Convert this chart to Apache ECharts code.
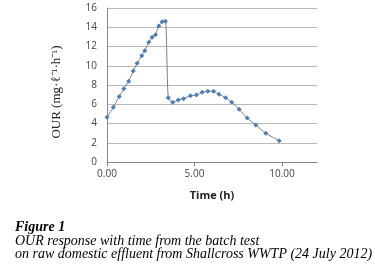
<!DOCTYPE html>
<html lang="en" style="height: 100%">
<head>
  <meta charset="utf-8">
</head>
<body style="height: 100%; margin: 0; background: #fff">
  <div id="container" style="width: 375px; height: 280px"></div>

  <script type="text/javascript" src="https://fastly.jsdelivr.net/npm/echarts@6/dist/echarts.min.js"></script>
  <script type="text/javascript">
    // time (h) and OUR readings
    var timeH = [0.0, 0.36, 0.7, 0.96, 1.24, 1.5, 1.72, 1.99, 2.16, 2.39, 2.58, 2.77, 2.96, 3.15, 3.34,
      3.5, 3.75, 4.07, 4.38, 4.77, 5.11, 5.44, 5.76, 6.09, 6.4, 6.78, 7.13, 7.55, 8.01, 8.5, 9.07, 9.84];
    var ourVals = [4.65, 5.69, 6.8, 7.6, 8.4, 9.45, 10.26, 11.05, 11.57, 12.44, 12.96, 13.23, 14.14, 14.58, 14.62,
      6.68, 6.2, 6.44, 6.58, 6.89, 6.96, 7.24, 7.35, 7.35, 7.04, 6.68, 6.2, 5.48, 4.57, 3.85, 2.98, 2.21];
    var xTicks = [0, 5, 10];

    var captionLines = [
      'Figure 1',
      'OUR response with time from the batch test',
      'on raw domestic effluent from Shallcross WWTP (24 July 2012)'
    ];

    var dom = document.getElementById('container');
    var myChart = echarts.init(dom, null, { renderer: 'canvas' });

    var points = [];
    for (var i = 0; i < timeH.length; i++) {
      points.push([timeH[i], ourVals[i]]);
    }

    var option = {
      animation: false,
      grid: { left: 107, right: 58, top: 8, bottom: 118 },
      xAxis: {
        type: 'value',
        min: 0,
        max: 12,
        interval: 5,
        name: 'Time (h)',
        nameLocation: 'middle',
        nameGap: 28,
        nameTextStyle: { fontFamily: 'Open Sans', fontWeight: 'bold', fontSize: 11, color: '#222' },
        axisLine: { lineStyle: { color: '#888' } },
        axisTick: { show: true, customValues: xTicks, length: 4, lineStyle: { color: '#888' } },
        axisLabel: {
          customValues: xTicks,
          formatter: function (v) { return v.toFixed(2); },
          fontFamily: 'Open Sans', fontSize: 10, color: '#444', margin: 7
        },
        splitLine: { show: false }
      },
      yAxis: {
        type: 'value',
        min: 0,
        max: 16,
        interval: 2,
        name: 'OUR (mg·ℓ⁻¹·h⁻¹)',
        nameLocation: 'middle',
        nameGap: 44,
        nameTextStyle: { fontFamily: 'Liberation Serif', fontSize: 13, color: '#222', padding: [0, 14, 0, 0] },
        axisLine: { show: true, lineStyle: { color: '#888' } },
        axisTick: { show: false },
        axisLabel: { fontFamily: 'Open Sans', fontSize: 10, color: '#444', margin: 10 },
        splitLine: { lineStyle: { color: '#b8b8b8', width: 1 } }
      },
      series: [{
        type: 'line',
        data: points,
        smooth: 0.2,
        symbol: 'diamond',
        symbolSize: 5,
        lineStyle: { color: '#7f7f7f', width: 1 },
        itemStyle: { color: '#4a7ebb' }
      }],
      graphic: [
        { type: 'text', left: 15, top: 220, style: { text: captionLines[0], font: 'italic bold 14px "Liberation Serif"', fill: '#000' } },
        { type: 'text', left: 15, top: 234, style: { text: captionLines[1], font: 'italic 14px "Liberation Serif"', fill: '#000' } },
        { type: 'text', left: 15, top: 247, style: { text: captionLines[2], font: 'italic 14px "Liberation Serif"', fill: '#000' } }
      ]
    };

    myChart.setOption(option);
    window.addEventListener('resize', myChart.resize);
  </script>
</body>
</html>
